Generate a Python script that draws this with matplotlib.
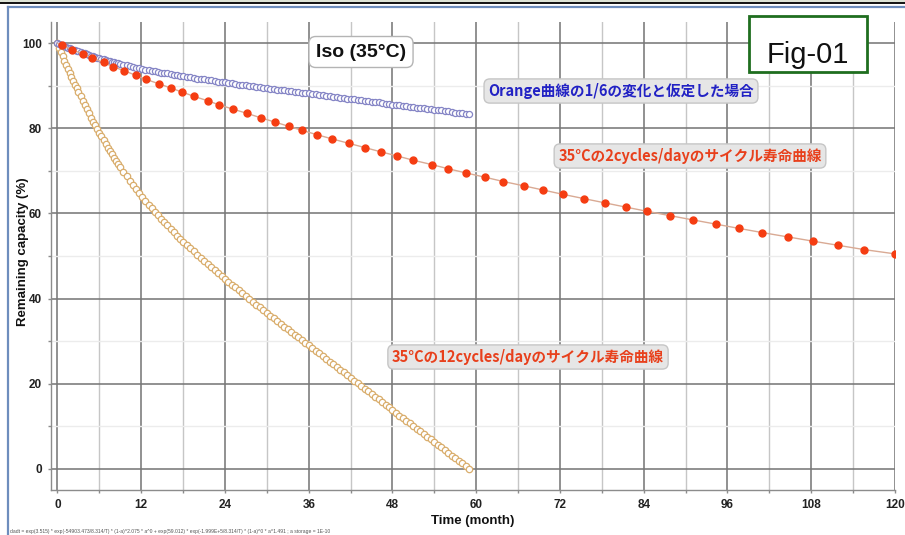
import matplotlib
matplotlib.use("Agg")
import matplotlib.pyplot as plt
from matplotlib.patches import Rectangle
from matplotlib.lines import Line2D
from matplotlib.ticker import MultipleLocator

plt.rcParams["font.family"] = ["Liberation Sans", "DejaVu Sans"]
JP = ["Noto Sans CJK JP", "DejaVu Sans"]

# simulation output times (months); the solver steps finer where the curve is steep
months = [
    0.0, 0.25, 0.5, 0.75, 1.0, 1.25, 1.5, 1.75, 2.0, 2.25, 2.5, 2.75, 3.0,
    3.3, 3.6, 3.9, 4.2, 4.5, 4.8, 5.1, 5.4, 5.7, 6.0,
    6.3, 6.6, 6.9, 7.2, 7.5, 7.8, 8.1, 8.4, 8.7, 9.0,
    9.45, 9.9, 10.35, 10.8, 11.25, 11.7, 12.15, 12.6, 13.05, 13.5,
    13.95, 14.4, 14.85, 15.3, 15.75, 16.2, 16.65, 17.1, 17.55, 18.0,
    18.5, 19.0, 19.5, 20.0, 20.5, 21.0, 21.5, 22.0, 22.5, 23.0,
    23.5, 24.0, 24.5, 25.0, 25.5, 26.0, 26.5, 27.0, 27.5, 28.0,
    28.5, 29.0, 29.5, 30.0, 30.5, 31.0, 31.5, 32.0, 32.5, 33.0,
    33.5, 34.0, 34.5, 35.0, 35.5, 36.0, 36.5, 37.0, 37.5, 38.0,
    38.5, 39.0, 39.5, 40.0, 40.5, 41.0, 41.5, 42.0, 42.5, 43.0,
    43.5, 44.0, 44.5, 45.0, 45.5, 46.0, 46.5, 47.0, 47.5, 48.0,
    48.5, 49.0, 49.5, 50.0, 50.5, 51.0, 51.5, 52.0, 52.5, 53.0,
    53.5, 54.0, 54.5, 55.0, 55.5, 56.0, 56.5, 57.0, 57.5, 58.0,
    58.5, 59.0,
]

# 35°C, 12 cycles/day
cap_12cyc = [
    100.0, 98.9, 97.9, 96.9, 95.9, 95.0, 94.0, 93.0, 92.1, 91.2, 90.3, 89.4, 88.5,
    87.5, 86.5, 85.4, 84.5, 83.5, 82.5, 81.6, 80.7, 79.8, 78.9,
    78.1, 77.2, 76.4, 75.5, 74.7, 73.9, 73.1, 72.4, 71.6, 70.9,
    69.8, 68.7, 67.7, 66.7, 65.8, 64.8, 63.9, 63.0, 62.1, 61.2,
    60.4, 59.6, 58.8, 58.0, 57.2, 56.3, 55.6, 54.8, 54.1, 53.4,
    52.6, 51.8, 51.1, 50.3, 49.6, 48.9, 48.2, 47.5, 46.8, 46.1,
    45.4, 44.7, 44.0, 43.3, 42.7, 42.0, 41.3, 40.7, 40.0, 39.3,
    38.6, 38.0, 37.3, 36.6, 36.0, 35.4, 34.7, 34.1, 33.4, 32.8,
    32.2, 31.5, 30.9, 30.3, 29.6, 29.0, 28.4, 27.7, 27.1, 26.5,
    25.8, 25.2, 24.6, 23.9, 23.3, 22.7, 22.0, 21.4, 20.7, 20.1,
    19.5, 18.8, 18.2, 17.6, 16.9, 16.3, 15.7, 15.0, 14.4, 13.8,
    13.2, 12.5, 11.9, 11.3, 10.7, 10.0, 9.4, 8.8, 8.2, 7.5,
    6.9, 6.3, 5.6, 5.0, 4.4, 3.8, 3.1, 2.5, 1.9, 1.3,
    0.6, 0.0,
]

# same curve with 1/6 of the capacity loss
cap_sixth = [
    100.0, 99.8, 99.7, 99.5, 99.3, 99.2, 99.0, 98.8, 98.7, 98.5, 98.4, 98.2, 98.1,
    97.9, 97.7, 97.6, 97.4, 97.3, 97.1, 96.9, 96.8, 96.6, 96.5,
    96.3, 96.2, 96.1, 95.9, 95.8, 95.7, 95.5, 95.4, 95.3, 95.2,
    95.0, 94.8, 94.6, 94.5, 94.3, 94.1, 94.0, 93.8, 93.7, 93.5,
    93.4, 93.3, 93.1, 93.0, 92.9, 92.7, 92.6, 92.5, 92.4, 92.2,
    92.1, 92.0, 91.9, 91.7, 91.6, 91.5, 91.4, 91.3, 91.1, 91.0,
    90.9, 90.8, 90.7, 90.6, 90.5, 90.3, 90.2, 90.1, 90.0, 89.9,
    89.8, 89.7, 89.6, 89.4, 89.3, 89.2, 89.1, 89.0, 88.9, 88.8,
    88.7, 88.6, 88.5, 88.4, 88.3, 88.2, 88.1, 88.0, 87.9, 87.8,
    87.6, 87.5, 87.4, 87.3, 87.2, 87.1, 87.0, 86.9, 86.8, 86.7,
    86.6, 86.5, 86.4, 86.3, 86.2, 86.1, 86.0, 85.8, 85.7, 85.6,
    85.5, 85.4, 85.3, 85.2, 85.1, 85.0, 84.9, 84.8, 84.7, 84.6,
    84.5, 84.4, 84.3, 84.2, 84.1, 84.0, 83.8, 83.7, 83.6, 83.5,
    83.4, 83.3,
]

# 35°C, 2 cycles/day (markers every 1 % of capacity)
months_2cyc = [
    0.0, 0.6, 2.1, 3.6, 5.0, 6.6, 8.0, 9.6, 11.2, 12.7,
    14.5, 16.2, 17.9, 19.6, 21.5, 23.2, 25.2, 27.2, 29.1, 31.1,
    33.1, 35.1, 37.2, 39.4, 41.7, 44.0, 46.3, 48.7, 51.0, 53.6,
    56.0, 58.6, 61.3, 63.9, 66.8, 69.6, 72.4, 75.4, 78.4, 81.4,
    84.5, 87.7, 91.0, 94.3, 97.6, 101.0, 104.6, 108.2, 111.9, 115.6,
    120.0,
]
cap_2cyc = [
    100.0, 99.5, 98.5, 97.5, 96.5, 95.5, 94.5, 93.5, 92.5, 91.5,
    90.5, 89.5, 88.5, 87.5, 86.5, 85.5, 84.5, 83.5, 82.5, 81.5,
    80.5, 79.5, 78.5, 77.5, 76.5, 75.5, 74.5, 73.5, 72.5, 71.5,
    70.5, 69.5, 68.5, 67.5, 66.5, 65.5, 64.5, 63.5, 62.5, 61.5,
    60.5, 59.5, 58.5, 57.5, 56.5, 55.5, 54.5, 53.5, 52.5, 51.5,
    50.5,
]

x_ticks = [0, 12, 24, 36, 48, 60, 72, 84, 96, 108, 120]
y_ticks = [0, 20, 40, 60, 80, 100]

W, H = 905, 535
fig = plt.figure(figsize=(W / 100, H / 100), dpi=100)


def fx(px):
    return px / W


def fy(py):
    return 1 - py / H


# outer frame
fig.add_artist(Rectangle((0, fy(3)), 1, 3 / H, transform=fig.transFigure,
                         facecolor="#dde3d6", edgecolor="none"))
fig.add_artist(Line2D([0, 1], [fy(3), fy(3)], transform=fig.transFigure,
                      color="#111111", lw=1.4))
fig.add_artist(Line2D([fx(8), 1], [fy(6.5), fy(6.5)], transform=fig.transFigure,
                      color="#6e8dbd", lw=1.6))
fig.add_artist(Line2D([fx(8), fx(8)], [fy(6.5), 0], transform=fig.transFigure,
                      color="#6e8dbd", lw=1.6))

ax = fig.add_axes([fx(51), fy(490), fx(895) - fx(51), fy(22) - fy(490)])
ax.set_xlim(-0.93, 120.0)
ax.set_ylim(-5, 105)

ax.xaxis.set_minor_locator(MultipleLocator(6))
ax.yaxis.set_minor_locator(MultipleLocator(10))
ax.set_xticks(x_ticks)
ax.set_yticks(y_ticks)

ax.grid(which="major", color="#787878", lw=1.15, zorder=0)
ax.grid(which="minor", axis="x", color="#c6c6c6", lw=1.0, zorder=0)
ax.grid(which="minor", axis="y", color="#ececec", lw=1.0, zorder=0)
ax.set_axisbelow(True)

for side in ("top", "right"):
    ax.spines[side].set_visible(False)
for side in ("left", "bottom"):
    ax.spines[side].set_color("#8c8c8c")
    ax.spines[side].set_linewidth(1.0)

ax.tick_params(which="both", length=2.5, color="#8c8c8c", width=1)
ax.tick_params(which="major", labelsize=8.5, labelcolor="#222222", pad=4)
for lab in ax.get_xticklabels() + ax.get_yticklabels():
    lab.set_fontweight("bold")

ax.set_xlabel("Time (month)", fontsize=9.5, fontweight="bold", color="#111111", labelpad=3)
ax.set_ylabel("Remaining capacity (%)", fontsize=9.5, fontweight="bold", color="#111111")
ax.yaxis.set_label_coords(-0.026, 0.51)

ax.plot(months, cap_12cyc, ls="none", marker="o", markersize=4.6,
        markerfacecolor="white", markeredgecolor="#d9ad6c", markeredgewidth=0.9, zorder=3)
ax.plot(months, cap_sixth, ls="none", marker="o", markersize=4.4,
        markerfacecolor="white", markeredgecolor="#8585c6", markeredgewidth=0.9, zorder=3)
ax.plot(months_2cyc, cap_2cyc, color="#d9aa94", lw=1.0, zorder=4)
ax.plot(months_2cyc[1:], cap_2cyc[1:], ls="none", marker="o", markersize=5,
        markerfacecolor="#f53d12", markeredgecolor="#f53d12", zorder=5)

# annotations
fig.text(fx(361), fy(52), "Iso (35°C)", ha="center", va="center", fontsize=14,
         fontweight="bold", color="#111111",
         bbox=dict(boxstyle="round,pad=0.36,rounding_size=0.35", facecolor="white",
                   edgecolor="#b4b4b4", lw=1))

fig.add_artist(Rectangle((fx(749), fy(72)), fx(867) - fx(749), (72 - 16) / H,
                         transform=fig.transFigure, facecolor="white",
                         edgecolor="#1f6e1f", lw=2))
fig.text(fx(808), fy(63), "Fig-01", ha="center", va="baseline", fontsize=21, color="#111111")

box_kw = dict(boxstyle="round,pad=0.28,rounding_size=0.4", facecolor="#e6e6e6",
              edgecolor="#c6c6c6", lw=1)
fig.text(fx(621), fy(91), "Orange曲線の1/6の変化と仮定した場合", ha="center", va="center",
         fontsize=10.5, fontweight="bold", color="#2222c4", family=JP, bbox=box_kw)
fig.text(fx(690), fy(156), "35°Cの2cycles/dayのサイクル寿命曲線", ha="center", va="center",
         fontsize=10.5, fontweight="bold", color="#e8401c", family=JP, bbox=box_kw)
fig.text(fx(528), fy(357), "35°Cの12cycles/dayのサイクル寿命曲線", ha="center", va="center",
         fontsize=10.5, fontweight="bold", color="#e8401c", family=JP, bbox=box_kw)

fig.text(fx(10), fy(531),
         "dadt = exp(3.515) * exp(-54903.473/8.314/T) * (1-a)^2.075 * a^0 + exp(59.012) * "
         "exp(-1.999E+5/8.314/T) * (1-a)^0 * a^1.491 ; a storage = 1E-10",
         ha="left", va="center", fontsize=3.6, color="#555555")

fig.savefig("out.png", dpi=100)
